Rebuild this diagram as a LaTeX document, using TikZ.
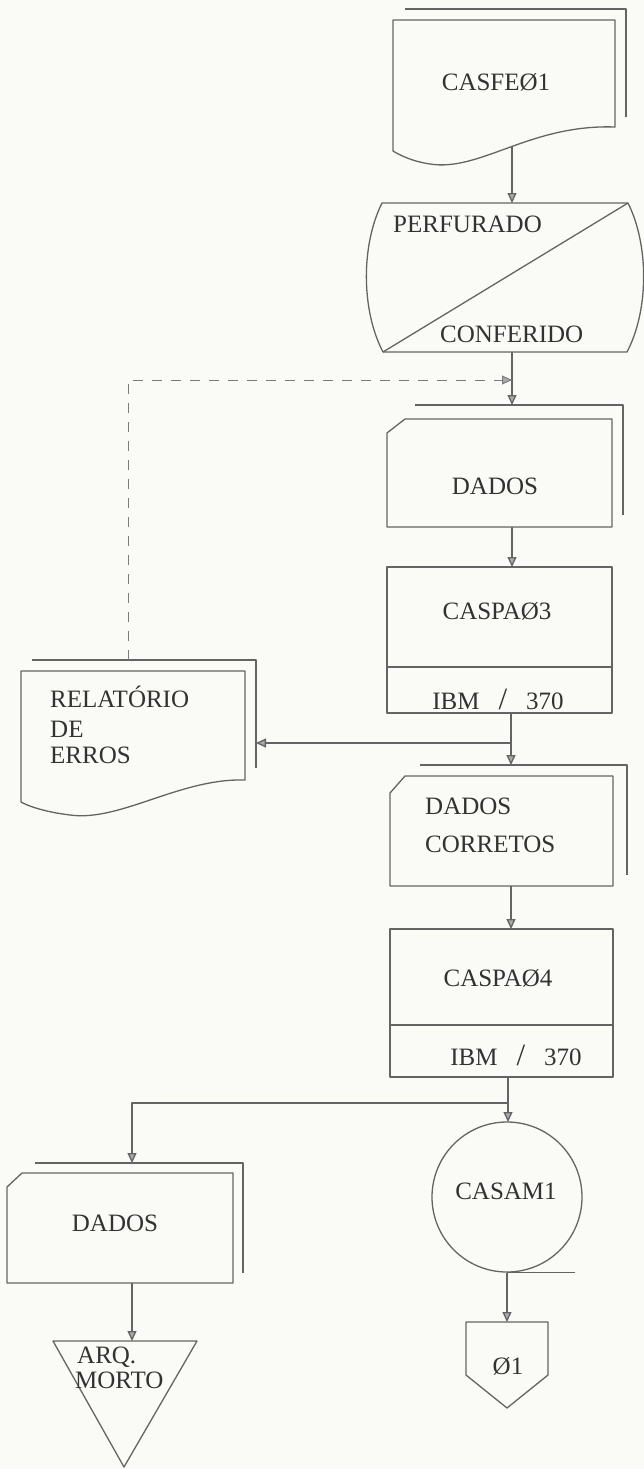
\documentclass[tikz,border=0pt]{standalone}
\usepackage{fontspec}
\setmainfont{Liberation Serif}
\usetikzlibrary{arrows.meta}
\definecolor{bgc}{RGB}{250,250,246}
\definecolor{linec}{RGB}{100,100,100}
\definecolor{txtc}{RGB}{50,50,50}
\tikzset{
  ln/.style={draw=linec, line width=1.3pt, line join=round},
  arr/.style={ln, -{Triangle[length=10pt,width=9pt,fill=linec!55]}},
  dsh/.style={draw=linec!85, line width=1pt, dash pattern=on 10pt off 9pt, -{Triangle[length=10pt,width=9pt,fill=linec!55]}},
  lbl/.style={text=txtc, font=\fontsize{25}{29}\selectfont, inner sep=0pt},
}
\begin{document}
\begin{tikzpicture}[x=1pt,y=-1pt]
\fill[bgc] (0,0) rectangle (644,1469);
\useasboundingbox (0,0) rectangle (644,1469);

% CASFE01 document
\draw[ln] (405,9) -- (626,9) -- (626,117);
\draw[ln] (393,20) -- (615,20) -- (615,127) .. controls (530,124) and (480,172) .. (430,164) .. controls (410,161) and (398,154) .. (393,151) -- cycle;
\node[lbl, anchor=base] (casfe) at (496,91) {CASFEØ1};
\coordinate (casfeB) at (512,147);

% PERFURADO / CONFERIDO
\draw[ln] (382,203) -- (628,203) .. controls (649,245) and (649,310) .. (627,352) -- (383,352) .. controls (361,310) and (361,245) .. (382,203) -- cycle;
\draw[ln] (383,352) -- (628,203);
\node[lbl, anchor=base west] (perf) at (393,232) {PERFURADO};
\node[lbl, anchor=base west] (conf) at (440,342) {CONFERIDO};
\coordinate (perfT) at (512,203);
\coordinate (perfB) at (512,352);
\draw[arr] (casfeB) -- (perfT);

% DADOS (card)
\draw[ln] (415,405) -- (623,405) -- (623,515);
\draw[ln] (405,419) -- (612,419) -- (612,527) -- (387,527) -- (387,433) -- cycle;
\node[lbl, anchor=base] (dados1) at (495,494) {DADOS};
\coordinate (dados1T) at (512,405);
\coordinate (dados1B) at (512,527);
\draw[arr] (perfB) -- (dados1T);

% CASPA03
\draw[ln] (387,567) rectangle (612,713);
\draw[ln] (387,667) -- (612,667);
\node[lbl, anchor=base] (caspa3) at (497,619) {CASPAØ3};
\node[lbl, anchor=base] (ibm3) at (498,709) {IBM\hspace{19pt}{\fontsize{31}{31}\selectfont /}\hspace{19pt}370};
\coordinate (caspa3T) at (512,567);
\coordinate (caspa3B) at (511,713);
\draw[arr] (dados1B) -- (caspa3T);

% RELATORIO DE ERROS
\draw[ln] (32,660) -- (256,660) -- (256,768);
\draw[ln] (21,671) -- (245,671) -- (245,780) .. controls (180,778) and (120,822) .. (70,815) .. controls (45,812) and (28,806) .. (21,802) -- cycle;
\node[lbl, anchor=base west] (relA) at (50,707) {RELATÓRIO};
\node[lbl, anchor=base west] (relB) at (50,737) {DE};
\node[lbl, anchor=base west] (relC) at (50,763) {ERROS};
\coordinate (relR) at (256,743);
\coordinate (relT) at (128,660);
\coordinate (dashC) at (128,380);
\coordinate (dashE) at (512,380);
\draw[dsh] (relT) -- (dashC) -- (dashE);

% DADOS CORRETOS
\draw[ln] (420,765) -- (627,765) -- (627,875);
\draw[ln] (405,776) -- (613,776) -- (613,886) -- (390,886) -- (390,793) -- cycle;
\node[lbl, anchor=base west] (dcA) at (425,814) {DADOS};
\node[lbl, anchor=base west] (dcB) at (425,852) {CORRETOS};
\coordinate (dcT) at (511,765);
\coordinate (dcB2) at (511,886);
\coordinate (br1) at (511,743);
\draw[arr] (caspa3B) -- (dcT);
\draw[arr] (br1) -- (relR);

% CASPA04
\draw[ln] (390,929) rectangle (613,1077);
\draw[ln] (390,1025) -- (613,1025);
\node[lbl, anchor=base] (caspa4) at (498,986) {CASPAØ4};
\node[lbl, anchor=base] (ibm4) at (516,1065) {IBM\hspace{19pt}{\fontsize{31}{31}\selectfont /}\hspace{19pt}370};
\coordinate (caspa4T) at (511,929);
\coordinate (caspa4B) at (508,1077);
\draw[arr] (dcB2) -- (caspa4T);

% CASAM1 (magnetic tape)
\node[ln, circle, minimum size=150pt, inner sep=0pt] (casam) at (507,1197) {};
\node[lbl, anchor=base] (casamt) at (506,1199) {CASAM1};
\draw[ln] (casam.south) -- ++(68,0);
\coordinate (casamT) at (508,1122);
\coordinate (br2) at (508,1103);
\draw[arr] (caspa4B) -- (casamT);

% off-page connector
\draw[ln] (466,1322) -- (548,1322) -- (548,1375) -- (507,1408) -- (466,1375) -- cycle;
\node[lbl, anchor=base] (off) at (508,1374) {Ø1};
\coordinate (offT) at (507,1322);
\draw[arr] (casam.south) -- (offT);

% DADOS (bottom card)
\draw[ln] (35,1163) -- (243,1163) -- (243,1273);
\draw[ln] (22,1173) -- (233,1173) -- (233,1283) -- (7,1283) -- (7,1187) -- cycle;
\node[lbl, anchor=base] (dados3) at (115,1231) {DADOS};
\coordinate (dados3T) at (132,1163);
\coordinate (dados3B) at (132,1283);
\draw[arr] (br2) -| (dados3T);

% ARQ. MORTO
\draw[ln] (53,1341) -- (197,1341) -- (124,1467) -- cycle;
\node[lbl, anchor=base west] (arqA) at (77,1363) {ARQ.};
\node[lbl, anchor=base west] (arqB) at (75,1388) {MORTO};
\coordinate (arqT) at (132,1341);
\draw[arr] (dados3B) -- (arqT);
\end{tikzpicture}
\end{document}
